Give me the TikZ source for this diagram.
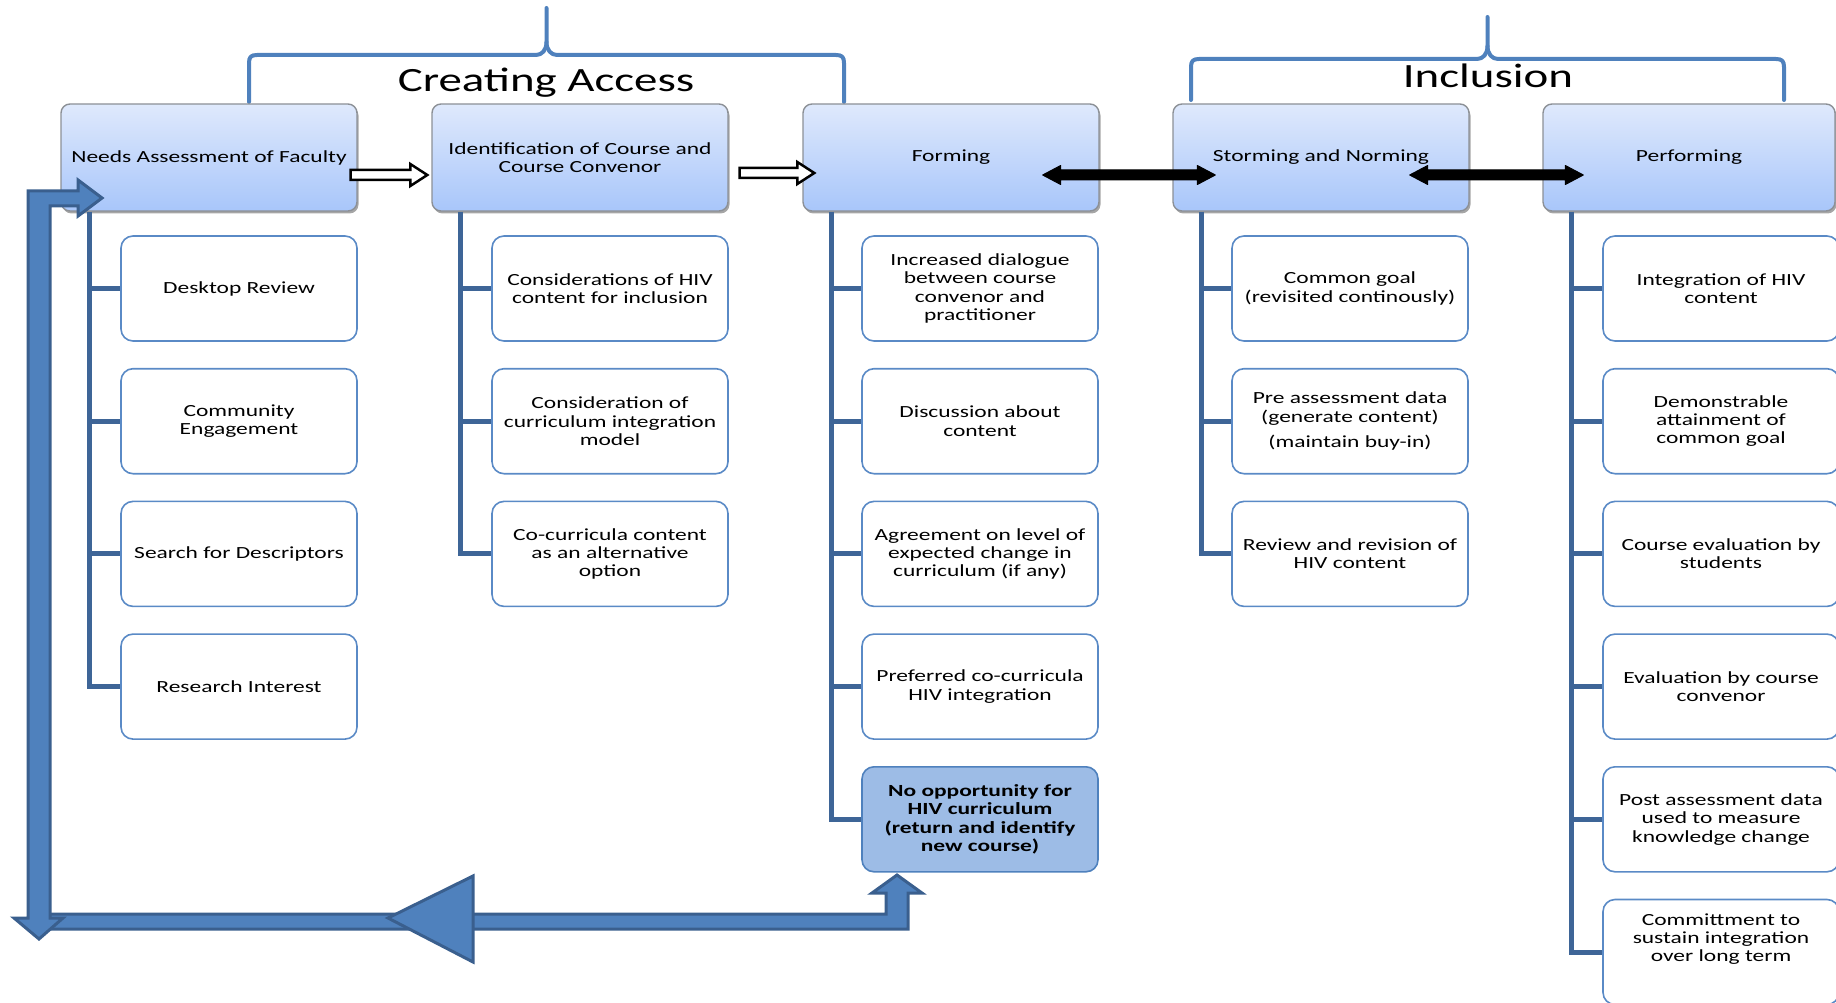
\documentclass[tikz,border=0pt]{standalone}
\usepackage{fontspec}
\setmainfont{Carlito}[FakeStretch=1.38]
\usetikzlibrary{calc,shadows}
\definecolor{hdtop}{HTML}{DFE9FC}
\definecolor{hdbot}{HTML}{A8C6FA}
\definecolor{hdline}{HTML}{8C9096}
\definecolor{chline}{HTML}{5A8AC6}
\definecolor{trunkc}{HTML}{3E6597}
\definecolor{brkc}{HTML}{4F81BD}
\definecolor{bigfill}{HTML}{4F81BD}
\definecolor{bigline}{HTML}{3A5F8E}
\definecolor{nofill}{HTML}{9DBCE6}
\newcommand\hollowarrow[2]{%
  \draw[hollow] ($(#1)+(0,-5)$) -- ($(#2)+(-17,-5)$) -- ($(#2)+(-17,-11)$) -- (#2)
    -- ($(#2)+(-17,11)$) -- ($(#2)+(-17,5)$) -- ($(#1)+(0,5)$) -- cycle;}
\newcommand\dblarrow[2]{%
  \filldraw[solidarr] (#1) -- ($(#1)+(18,-9.5)$) -- ($(#1)+(18,-5)$) -- ($(#2)+(-18,-5)$)
    -- ($(#2)+(-18,-9.5)$) -- (#2) -- ($(#2)+(-18,9.5)$) -- ($(#2)+(-18,5)$)
    -- ($(#1)+(18,5)$) -- ($(#1)+(18,9.5)$) -- cycle;}
\begin{document}
\begin{tikzpicture}[x=1pt,y=-1pt,
  hdr/.style={rounded corners=9pt, draw=hdline, line width=1.4pt, top color=hdtop, bottom color=hdbot,
    minimum width=296pt, minimum height=107pt, align=center, inner sep=0pt,
    font=\fontsize{17}{17.6}\selectfont,
    drop shadow={shadow xshift=1.5pt, shadow yshift=-2.5pt, opacity=0.35, fill=black}},
  subbox/.style={rounded corners=12pt, draw=chline, line width=1.6pt, fill=white,
    minimum width=236pt, minimum height=105pt, align=center, inner sep=0pt,
    font=\fontsize{17}{18.3}\selectfont},
  nobox/.style={subbox, fill=nofill, draw=brkc, font=\fontsize{17}{18.3}\selectfont\bfseries},
  subtext/.style={align=center, inner sep=0pt, font=\fontsize{17}{18.3}\selectfont},
  trunk/.style={draw=trunkc, line width=5pt},
  brk/.style={draw=brkc, line width=4pt, line cap=round, line join=round},
  hollow/.style={draw=black, line width=2.5pt, fill=white, line join=miter},
  solidarr/.style={fill=black, draw=black, line width=1pt, line join=round},
  bigarr/.style={fill=bigfill, draw=bigline, line width=3pt, line join=miter},
  titletext/.style={font=\fontsize{34}{34}\selectfont, anchor=base, inner sep=0pt}
]
\useasboundingbox (0,0) rectangle (1836,1003);

% brackets
\draw[brk] (249,102) -- (249,63) .. controls (249,57) and (251,55) .. (257,55) -- (536,55)
  .. controls (542,55) and (546.5,50) .. (546.5,42) -- (546.5,8);
\draw[brk] (844,102) -- (844,63) .. controls (844,57) and (842,55) .. (836,55) -- (557,55)
  .. controls (551,55) and (546.5,50) .. (546.5,42);
\node[titletext] (ca) at (546,92) {Creating Access};
\draw[brk] (1191,100) -- (1191,67) .. controls (1191,61) and (1193,59) .. (1199,59) -- (1477,59)
  .. controls (1483,59) and (1487.5,54) .. (1487.5,46) -- (1487.5,17);
\draw[brk] (1784,100) -- (1784,67) .. controls (1784,61) and (1782,59) .. (1776,59) -- (1498,59)
  .. controls (1492,59) and (1487.5,54) .. (1487.5,46);
\node[titletext] (inc) at (1488,88) {Inclusion};

% header boxes
\node[hdr] (h1) at (209,157.5) {Needs Assessment of Faculty};
\node[hdr] (h2) at (580,157.5) {Identification of Course and\\Course Convenor};
\node[hdr] (h3) at (951,157.5) {Forming};
\node[hdr] (h4) at (1321,157.5) {Storming and Norming};
\node[hdr, minimum width=292pt] (h5) at (1689,157.5) {Performing};

% column 1
\node[subbox] (c11) at (239,288.5) {Desktop Review};
\node[subbox] (c12) at (239,421.2) {Community\\Engagement};
\node[subbox] (c13) at (239,553.9) {Search for Descriptors};
\node[subbox] (c14) at (239,686.6) {Research Interest};
% column 2
\node[subbox] (c21) at (610,288.5) {Considerations of HIV\\content for inclusion};
\node[subbox] (c22) at (610,421.2) {Consideration of\\curriculum integration\\model};
\node[subbox] (c23) at (610,553.9) {Co-curricula content\\as an alternative\\option};
% column 3
\node[subbox] (c31) at (980,288.5) {Increased dialogue\\between course\\convenor and\\practitioner};
\node[subbox] (c32) at (980,421.2) {Discussion about\\content};
\node[subbox] (c33) at (980,553.9) {Agreement on level of\\expected change in\\curriculum (if any)};
\node[subbox] (c34) at (980,686.6) {Preferred co-curricula\\HIV integration};
\node[nobox] (c35) at (980,819.3) {No opportunity for\\HIV curriculum\\(return and identify\\new course)};
% column 4
\node[subbox] (c41) at (1350,288.5) {Common goal\\(revisited continously)};
\node[subbox] (c42) at (1350,421.2) {Pre assessment data\\(generate content)\\[7pt](maintain buy-in)};
\node[subbox] (c43) at (1350,553.9) {Review and revision of\\HIV content};
% column 5
\node[subbox] (c51) at (1721,288.5) {Integration of HIV\\content};
\node[subbox] (c52) at (1721,421.2) {Demonstrable\\attainment of\\common goal};
\node[subbox] (c53) at (1721,553.9) {Course evaluation by\\students};
\node[subbox] (c54) at (1721,686.6) {Evaluation by course\\convenor};
\node[subbox] (c55) at (1721,819.3) {Post assessment data\\used to measure\\knowledge change};
\node[subbox] (c56) at (1721,952) {};
\node[subtext] (c56t) at ($(c56.center)+(0,-13)$) {Committment to\\sustain integration\\over long term};

% trunks
\draw[trunk] ($(h1.south west)+(29,0)$) coordinate (t1) |- (c14.west);
\foreach \c in {c11,c12,c13} \draw[trunk] (t1 |- \c.west) -- (\c.west);
\draw[trunk] ($(h2.south west)+(29,0)$) coordinate (t2) |- (c23.west);
\foreach \c in {c21,c22} \draw[trunk] (t2 |- \c.west) -- (\c.west);
\draw[trunk] ($(h3.south west)+(29,0)$) coordinate (t3) |- (c35.west);
\foreach \c in {c31,c32,c33,c34} \draw[trunk] (t3 |- \c.west) -- (\c.west);
\draw[trunk] ($(h4.south west)+(29,0)$) coordinate (t4) |- (c43.west);
\foreach \c in {c41,c42} \draw[trunk] (t4 |- \c.west) -- (\c.west);
\draw[trunk] ($(h5.south west)+(29,0)$) coordinate (t5) |- (c56.west);
\foreach \c in {c51,c52,c53,c54,c55} \draw[trunk] (t5 |- \c.west) -- (\c.west);

% hollow arrows
\coordinate (a1s) at ($(h1.east)+(-7,17.5)$);
\coordinate (a1e) at ($(h2.west)+(-4,17.5)$);
\hollowarrow{a1s}{a1e}
\coordinate (a2s) at ($(h2.east)+(11,15.5)$);
\coordinate (a2e) at ($(h3.west)+(12,15.5)$);
\hollowarrow{a2s}{a2e}

% double black arrows
\coordinate (d1l) at ($(h3.east)+(-57,17.5)$);
\coordinate (d1r) at ($(h4.west)+(43,17.5)$);
\dblarrow{d1l}{d1r}
\coordinate (d2l) at ($(h4.east)+(-60,17.5)$);
\coordinate (d2r) at ($(h5.west)+(41,17.5)$);
\dblarrow{d2l}{d2r}

% feedback arrows
\draw[bigarr] (42,914) -- (886,914) -- (886,893) -- (872,893) -- (897,875) -- (922,893)
  -- (908,893) -- (908,929) -- (42,929) -- cycle;
\draw[bigarr] (28,918) -- (28,191) -- (78,191) -- (78,180) -- (102,198) -- (78,216)
  -- (78,206) -- (50,206) -- (50,918) -- (63,918) -- (39,939) -- (14,918) -- cycle;
\draw[bigarr] (388,918) -- (473,876) -- (473,962) -- cycle;
\end{tikzpicture}
\end{document}
